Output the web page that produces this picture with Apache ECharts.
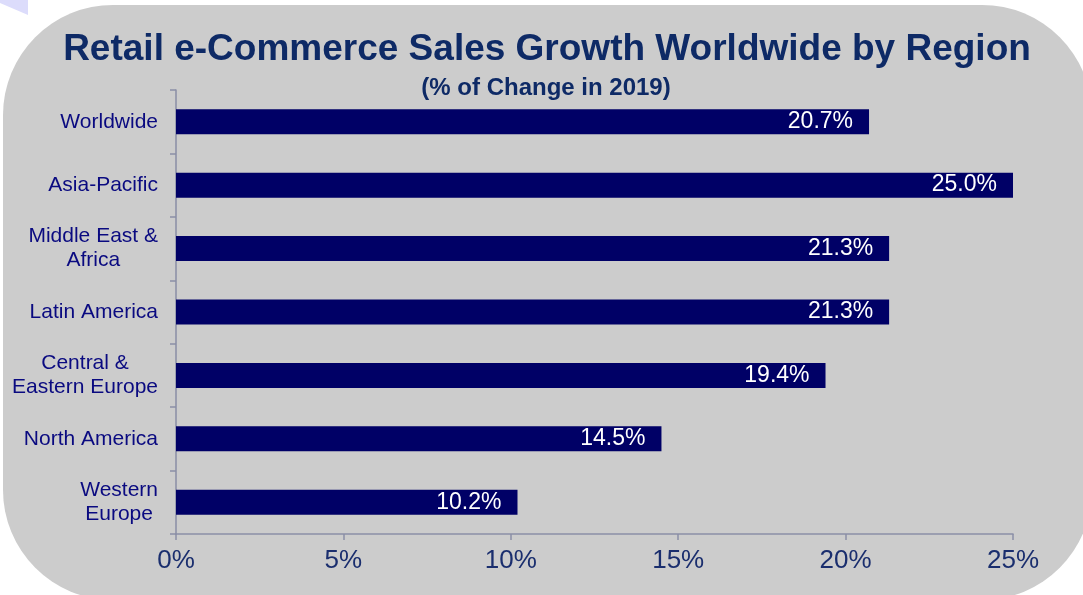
<!DOCTYPE html>
<html>
<head>
<meta charset="utf-8">
<script src="https://cdn.jsdelivr.net/npm/echarts@6/dist/echarts.min.js"></script>
<style>
  html, body { margin: 0; padding: 0; background: #ffffff; }
  #chart { width: 1083px; height: 595px; }
</style>
</head>
<body>
<div id="chart"></div>
<script>
// Regions, top to bottom
const regions = [
  'Worldwide',
  'Asia-Pacific',
  'Middle East &\nAfrica',
  'Latin America',
  'Central &\nEastern Europe',
  'North America',
  'Western\nEurope'
];
// Retail e-commerce sales growth, % change in 2019
const growth = [20.7, 25.0, 21.3, 21.3, 19.4, 14.5, 10.2];
// Value axis ticks (percent)
const axisMin = 0;
const axisMax = 25;
const axisStep = 5;

const FONT = '"Liberation Sans", Arial, Helvetica, sans-serif';

const chart = echarts.init(document.getElementById('chart'), null, { renderer: 'canvas' });

chart.setOption({
  backgroundColor: '#ffffff',
  animation: false,
  graphic: [
    {
      type: 'polygon',
      z: -20,
      shape: { points: [[0, 0], [28, 0], [28, 15], [0, 3]] },
      style: { fill: '#dcdcfb' },
      silent: true
    },
    {
      type: 'rect',
      z: -10,
      shape: { x: 3, y: 5, width: 1089, height: 595, r: 110 },
      style: { fill: '#cccccc' },
      silent: true
    }
  ],
  title: [
    {
      text: 'Retail e-Commerce Sales Growth Worldwide by Region',
      left: 542,
      textAlign: 'center',
      top: 26,
      textStyle: { fontFamily: FONT, fontSize: 37, fontWeight: 'bold', color: '#0e2a66' }
    },
    {
      text: '(% of Change in 2019)',
      left: 541,
      textAlign: 'center',
      top: 71,
      textStyle: { fontFamily: FONT, fontSize: 24, fontWeight: 'bold', color: '#0e2a66' }
    }
  ],
  grid: { left: 176, right: 70, top: 90, bottom: 61, containLabel: false },
  xAxis: {
    type: 'value',
    min: axisMin,
    max: axisMax,
    interval: axisStep,
    splitLine: { show: false },
    axisLine: { show: true, lineStyle: { color: '#8a8ea6', width: 1.5 } },
    axisTick: { show: true, length: 6, lineStyle: { color: '#8a8ea6', width: 1.5 } },
    axisLabel: {
      margin: 14,
      formatter: '{value}%',
      fontFamily: FONT,
      fontSize: 26,
      color: '#1a2e6e'
    }
  },
  yAxis: {
    type: 'category',
    inverse: true,
    data: regions,
    axisLine: { show: true, lineStyle: { color: '#8a8ea6', width: 1.5 } },
    axisTick: { show: true, length: 6, alignWithLabel: false, lineStyle: { color: '#8a8ea6', width: 1.5 } },
    axisLabel: {
      margin: 18,
      align: 'right',
      formatter: function (v) {
        return v.split('\n').map(function (line) { return '{c|' + line + '}'; }).join('\n');
      },
      rich: {
        c: { align: 'center', fontFamily: FONT, fontSize: 21, lineHeight: 24, color: '#0a0a80' }
      }
    }
  },
  series: [
    {
      type: 'bar',
      data: growth,
      barWidth: 25,
      itemStyle: { color: '#000066' },
      label: {
        show: true,
        position: 'insideRight',
        distance: 16,
        formatter: function (p) { return p.value.toFixed(1) + '%'; },
        fontFamily: FONT,
        fontSize: 23,
        color: '#ffffff'
      }
    }
  ]
});
</script>
</body>
</html>
